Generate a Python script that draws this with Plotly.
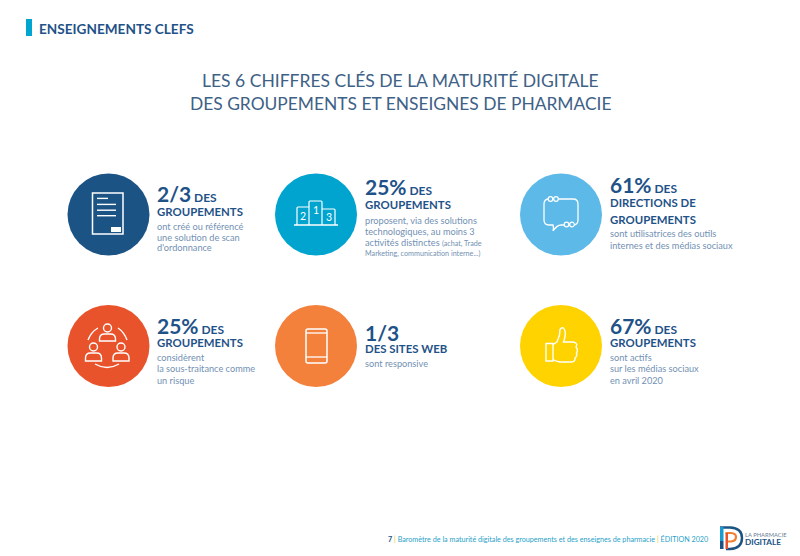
import plotly.graph_objects as go

FONT = "Lato"
NAVY = "#1f5288"
GREY = "#7391b3"
WHITE = "white"

header = "ENSEIGNEMENTS CLEFS"
title_lines = ["LES 6 CHIFFRES CLÉS DE LA MATURITÉ DIGITALE",
               "DES GROUPEMENTS ET ENSEIGNES DE PHARMACIE"]
circle_x = [108.5, 316, 561, 108.5, 316, 561]
circle_y = [214.5, 214.5, 214.5, 346, 346, 346]
circle_colors = ["#1b5384", "#00a4cf", "#5cb9e8", "#e9532b", "#f3813c", "#fed300"]
stat_values = ["2/3", "25%", "61%", "25%", "1/3", "67%"]
stat_suffix = [" DES", " DES", " DES", " DES", "", " DES"]
heads = [["GROUPEMENTS"], ["GROUPEMENTS"], ["DIRECTIONS DE", "GROUPEMENTS"],
         ["GROUPEMENTS"], ["DES SITES WEB"], ["GROUPEMENTS"]]
bodies = [["ont créé ou référencé", "une solution de scan", "d'ordonnance"],
          ["proposent, via des solutions", "technologiques, au moins 3",
           "activités distinctes <span style='font-size:7.2px'>(achat, Trade</span>",
           "<span style='font-size:7.2px'>Marketing, communication interne...)</span>"],
          ["sont utilisatrices des outils", "internes et des médias sociaux"],
          ["considèrent", "la sous-traitance comme", "un risque"],
          ["sont responsive"],
          ["sont actifs", "sur les médias sociaux", "en avril 2020"]]
text_x = [155.5, 363.5, 609, 155.5, 363.5, 609]
stat_y = [193, 186, 184, 325, 332, 325]
head_y = [[211.5], [204.5], [202.5, 219], [342.5], [348.5], [342.5]]
body_y = [[226, 237, 247], [220, 231, 242, 253], [233, 245], [357, 368, 380], [363], [357, 368, 380]]

fig = go.Figure()
fig.add_trace(go.Scatter(x=circle_x, y=circle_y, mode="markers", hoverinfo="skip",
                         marker=dict(size=82, color=circle_colors, line=dict(width=0))))

shapes = []
def line_path(path, width=1.4, fill=None, color=WHITE):
    shapes.append(dict(type="path", path=path, line=dict(color=color, width=width),
                       fillcolor=fill if fill else "rgba(0,0,0,0)", layer="above"))
def rect(x0, y0, x1, y1, fill, layer="above"):
    shapes.append(dict(type="rect", x0=x0, y0=y0, x1=x1, y1=y1, fillcolor=fill,
                       line=dict(width=0), layer=layer))

# header bar
rect(26, 19, 32, 36, "#00a5d0")

# document icon
line_path("M92.5,193 L123,193 L123,234 L92.5,234 Z", 1.5)
rect(97, 197.7, 108, 199.1, WHITE)
rect(97, 203.7, 116, 205.1, WHITE)
rect(97, 209.5, 116, 210.9, WHITE)
rect(97, 215, 116, 216.4, WHITE)
rect(111, 227, 121, 232, WHITE)

# podium icon
line_path("M294,225 L338,225", 1.4)
line_path("M297,225 L297,208 Q297,207 298,207 L309,207 L309,225", 1.2)
line_path("M309,207 L309,202 Q309,201 310,201 L321,201 Q322,201 322,202 L322,225", 1.2)
line_path("M322,209 L334,209 Q335,209 335,210 L335,225", 1.2)

# speech bubble icon
line_path("M549,199 L573,199 Q578,199 578,204 L578,220 Q578,225 573,225 L561,225 "
          "Q557,225 553,231 Q554,228 553,225 L549,225 Q544,225 544,220 L544,204 Q544,199 549,199 Z", 1.3)
for cx, cy in [(550.5, 199), (556, 199), (566.5, 224.5), (572, 224.5)]:
    shapes.append(dict(type="circle", x0=cx-2.3, x1=cx+2.3, y0=cy-2.3, y1=cy+2.3,
                       fillcolor="#5cb9e8", line=dict(color=WHITE, width=1.2), layer="above"))

# people icon
def person(cx, head_cy, top, bottom, half):
    shapes.append(dict(type="circle", x0=cx-4, x1=cx+4, y0=head_cy-4, y1=head_cy+4,
                       fillcolor="rgba(0,0,0,0)", line=dict(color=WHITE, width=1.4), layer="above"))
    line_path(f"M{cx-half},{bottom} L{cx-half},{top+5} Q{cx-half},{top} {cx-3},{top} "
              f"L{cx+3},{top} Q{cx+half},{top} {cx+half},{top+5} L{cx+half},{bottom} Z", 1.4)
person(107.5, 328, 334, 341, 8)
person(93.5, 347, 353, 361, 8)
person(121, 347, 353, 361, 8)
line_path("M88,340 Q91,332 98,328", 1.4)
line_path("M118,328 Q124,332 127,340", 1.4)
line_path("M95,364 Q107,371 119,364", 1.4)

# phone icon
line_path("M308,329 L325,329 Q327,329 327,331 L327,361 Q327,363 325,363 L308,363 "
          "Q306,363 306,361 L306,331 Q306,329 308,329 Z", 1.5)
line_path("M306,333 L327,333", 1.3)
line_path("M306,357 L327,357", 1.3)

# thumb icon
line_path("M546,343.5 L553,343.5 L553,361 L546,361 Z", 1.4)
line_path("M553,344.5 L557,342 L559.5,335 L560,329.5 Q562.5,326 564.5,329.5 Q566.5,334 563.5,342 "
          "L573,342 Q578.5,343 576,347 Q578.5,350 576.5,353 Q577.5,356 575,358 Q575.5,361.5 571.5,362 "
          "L560,362 Q556,361.5 553,359.5", 1.4)

# logo
line_path("M720,527.5 L730,527.5 Q742,528 742,538 Q742,548.5 730,549 L726,549", 2.4, color="#1b5384")
rect(720, 527, 723.5, 541, "#1b9cd0")
rect(720, 541, 723.5, 549, "#1b5384")
line_path("M725.5,533 L731,533 Q736,533.5 736,537 Q736,541 731,541.5 L727.5,541.5", 2.2, color="#f08030")
rect(725.5, 533, 728, 549, "#e9532b")

annotations = []
def text(x, y, s, size, color, anchor="left", bold=False):
    s = f"<b>{s}</b>" if bold else s
    annotations.append(dict(x=x, y=y, xref="x", yref="y", text=s, showarrow=False,
                            xanchor=anchor, yanchor="middle", align=anchor,
                            font=dict(family=FONT, size=size, color=color), borderpad=0))
for px, py, n in [(303, 215.5, "2"), (316, 209.5, "1"), (328.5, 216.5, "3")]:
    text(px, py, n, 10.5, WHITE, "center")

text(37.5, 29, header, 13.6, NAVY, bold=True)
text(400, 80.5, title_lines[0], 17.5, "#3e6186", "center")
text(400, 103, title_lines[1], 17.4, "#3e6186", "center")

for i in range(6):
    suffix = f"<span style='font-size:12px'>{stat_suffix[i]}</span>" if stat_suffix[i] else ""
    text(text_x[i], stat_y[i], stat_values[i] + suffix, 21, NAVY, bold=True)
    for s, yy in zip(heads[i], head_y[i]):
        text(text_x[i], yy, s, 11.4, NAVY, bold=True)
    for s, yy in zip(bodies[i], body_y[i]):
        text(text_x[i], yy, s, 9.2, GREY)

footer = ("<b><span style='color:#1b5384'>7</span></b>"
          "<span style='color:#f5c400'> | </span>Baromètre de la maturité digitale des groupements "
          "et des enseignes de pharmacie<span style='color:#f5c400'> | </span>ÉDITION 2020")
text(708.5, 539, footer, 7.2, "#2a9fc9", "right")
text(744, 534, "LA PHARMACIE", 5.8, "#6a7f95")
text(744, 541.5, "DIGITALE", 8.2, "#1b5384", bold=True)

# The page body has an 8 px margin, so the figure covers x 8-800, y 8-556 of the page.
fig.update_layout(
    width=792, height=548, margin=dict(l=0, r=0, t=0, b=0),
    paper_bgcolor="white", plot_bgcolor="white", showlegend=False,
    xaxis=dict(range=[8, 800], visible=False, fixedrange=True),
    yaxis=dict(range=[556, 8], visible=False, fixedrange=True),
    shapes=shapes, annotations=annotations,
)
fig.write_html("out.html", config=dict(displayModeBar=False))
